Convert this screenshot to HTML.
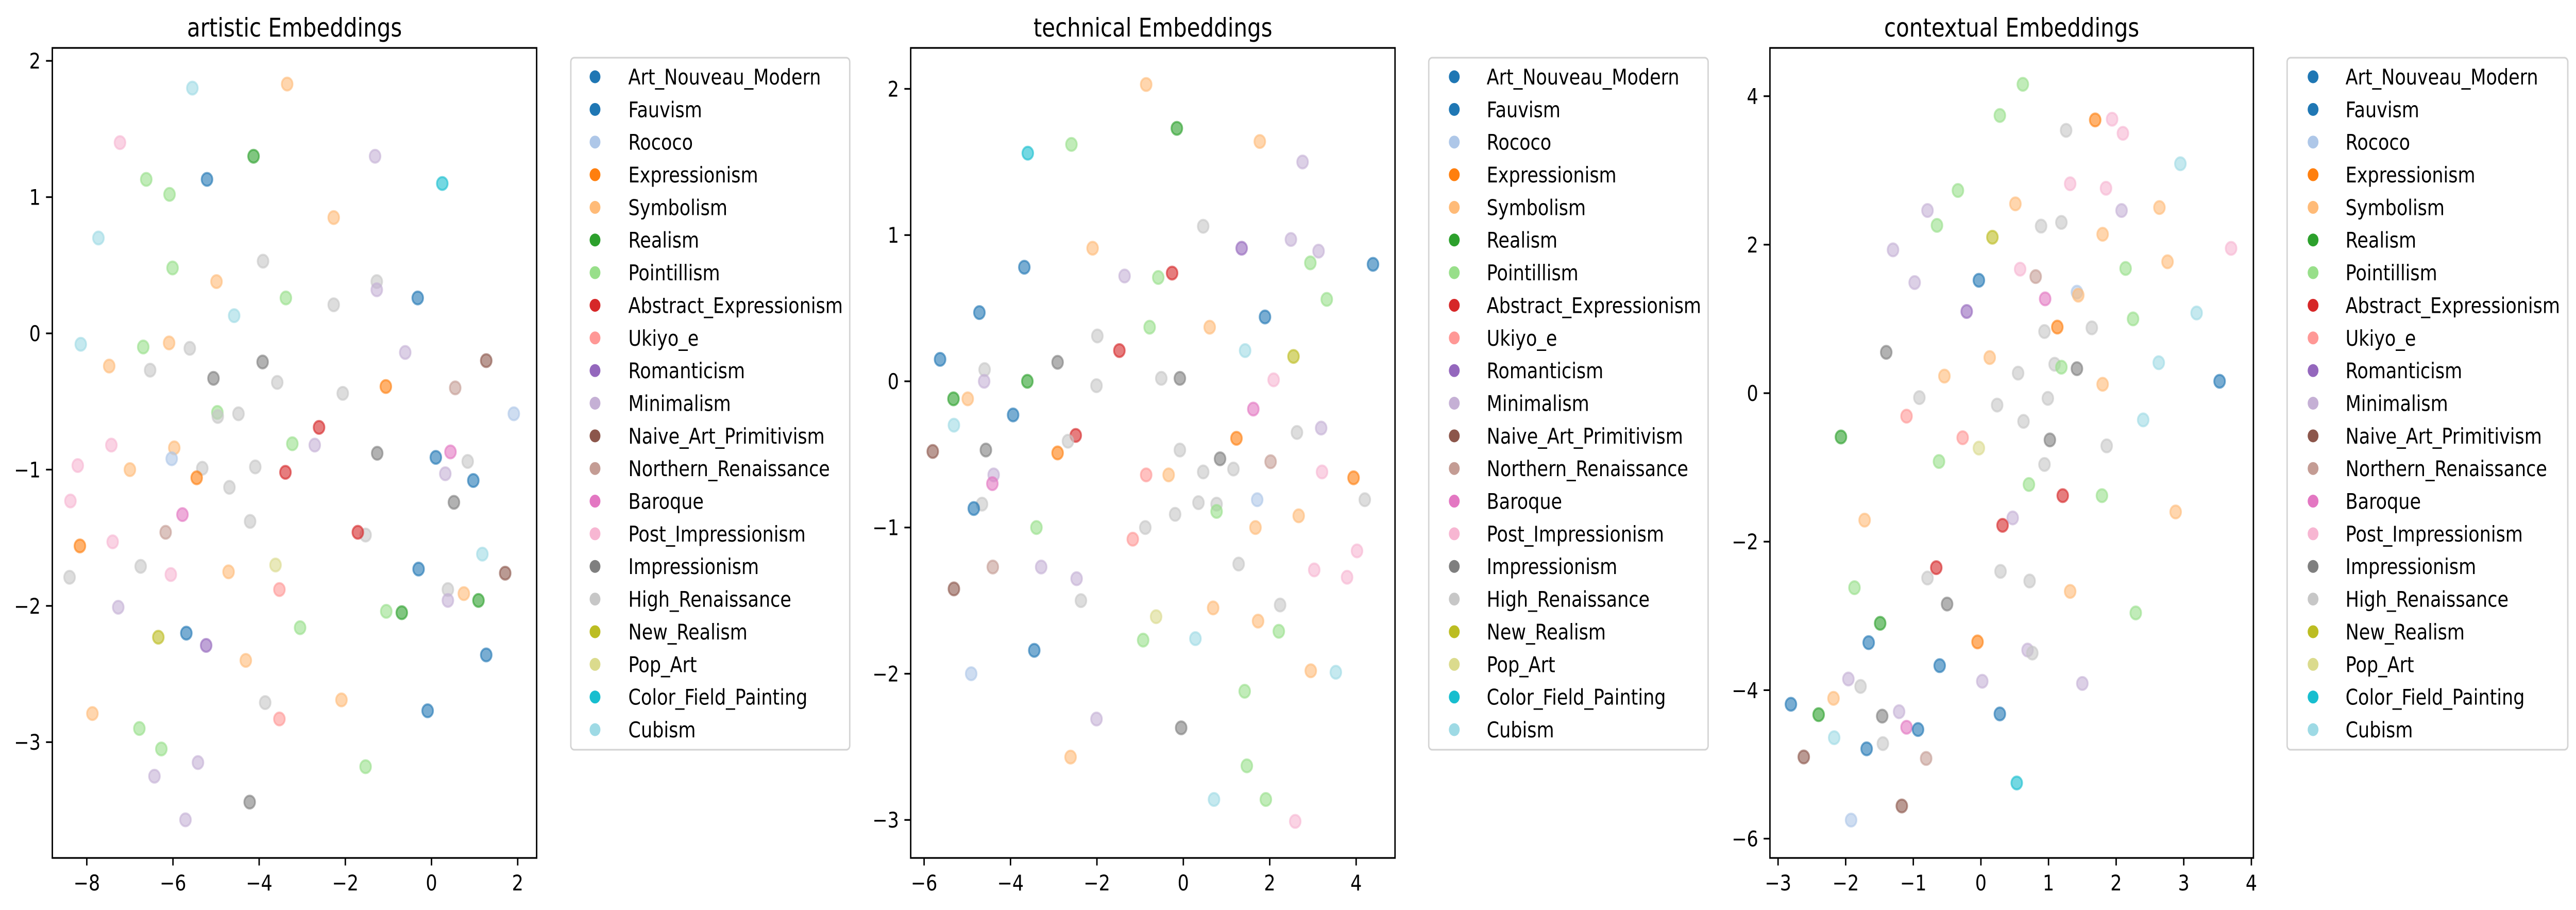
<!DOCTYPE html>
<html><head><meta charset="utf-8"><style>
html,body{margin:0;padding:0;background:#fff;width:100%;height:100%;overflow:hidden;}
svg{display:block;position:absolute;left:0;top:0;width:100vw;height:100vh;font-family:"DejaVu Sans","Liberation Sans",sans-serif;}
</style></head><body>
<svg id="fig" viewBox="0 0 5957 1766" preserveAspectRatio="none" xmlns="http://www.w3.org/2000/svg"></svg>
<script>
const categories=["Art_Nouveau_Modern","Fauvism","Rococo","Expressionism","Symbolism","Realism","Pointillism","Abstract_Expressionism","Ukiyo_e","Romanticism","Minimalism","Naive_Art_Primitivism","Northern_Renaissance","Baroque","Post_Impressionism","Impressionism","High_Renaissance","New_Realism","Pop_Art","Color_Field_Painting","Cubism"];
const catColors=["#1f77b4","#1f77b4","#aec7e8","#ff7f0e","#ffbb78","#2ca02c","#98df8a","#d62728","#ff9896","#9467bd","#c5b0d5","#8c564b","#c49c94","#e377c2","#f7b6d2","#7f7f7f","#c7c7c7","#bcbd22","#dbdb8d","#17becf","#9edae5"];

const p1Cat=[20,4,14,5,10,6,0,19,6,4,20,16,6,4,16,10,6,0,16,20,20,6,4,16,4,16,15,15,10,11,16,12,3,16,6,16,16,2,7,6,10,14,4,15,13,16,0,14,2,4,16,16,7,3,10,0,16,15,14,13,12,16,7,16,14,3,20,16,18,14,4,0,11,16,8,16,4,10,5,10,6,5,6,0,17,9,0,4,4,16,4,8,0,6,6,10,10,6,15,10];
const p1X=[-5.55,-3.35,-7.23,-4.13,-1.31,-6.62,-5.21,0.25,-6.08,-2.27,-7.73,-3.91,-6.01,-4.99,-1.27,-1.27,-3.38,-0.32,-2.27,-4.58,-8.14,-6.69,-6.09,-5.61,-7.48,-6.53,-3.92,-5.06,-0.61,1.27,-3.58,0.55,-1.06,-2.06,-4.97,-4.96,-4.48,1.91,-2.61,-3.23,-2.71,-7.43,-5.97,-1.26,0.44,0.84,0.10,-8.21,-6.03,-7.0,-5.32,-4.09,-3.39,-5.45,0.32,0.97,-4.69,0.52,-8.38,-5.78,-6.17,-1.53,-1.71,-4.21,-7.40,-8.16,1.18,-6.75,-3.62,-6.05,-4.71,-0.30,1.71,-8.40,-3.53,0.38,0.75,0.38,1.09,-7.27,-1.05,-0.69,-3.05,-5.69,-6.34,-5.23,1.27,-4.31,-2.09,-3.86,-7.87,-3.53,-0.09,-6.78,-6.27,-5.42,-6.43,-1.53,-4.22,-5.71];
const p1Y=[1.80,1.83,1.40,1.30,1.30,1.13,1.13,1.10,1.02,0.85,0.70,0.53,0.48,0.38,0.38,0.32,0.26,0.26,0.21,0.13,-0.08,-0.10,-0.07,-0.11,-0.24,-0.27,-0.21,-0.33,-0.14,-0.20,-0.36,-0.40,-0.39,-0.44,-0.58,-0.61,-0.59,-0.59,-0.69,-0.81,-0.82,-0.82,-0.84,-0.88,-0.87,-0.94,-0.91,-0.97,-0.92,-1.0,-0.99,-0.98,-1.02,-1.06,-1.03,-1.08,-1.13,-1.24,-1.23,-1.33,-1.46,-1.48,-1.46,-1.38,-1.53,-1.56,-1.62,-1.71,-1.70,-1.77,-1.75,-1.73,-1.76,-1.79,-1.88,-1.88,-1.91,-1.96,-1.96,-2.01,-2.04,-2.05,-2.16,-2.20,-2.23,-2.29,-2.36,-2.40,-2.69,-2.71,-2.79,-2.83,-2.77,-2.90,-3.05,-3.15,-3.25,-3.18,-3.44,-3.57];

const p2Cat=[4,5,6,19,4,10,16,10,9,10,4,0,0,6,10,6,7,6,0,0,4,6,16,7,20,17,0,15,16,16,15,14,10,5,16,5,4,13,0,20,10,16,7,3,16,11,15,16,3,15,12,16,16,14,10,8,4,3,13,2,16,16,16,16,0,6,16,4,6,16,4,14,8,16,12,10,14,14,10,11,16,16,4,18,4,6,20,6,0,2,4,20,6,10,15,4,6,20,6,14];
const p2X=[-0.86,-0.15,-2.59,-3.60,1.77,2.76,0.46,2.49,1.35,3.13,-2.10,4.39,-3.68,2.94,-1.36,-0.58,-0.26,3.32,-4.72,1.89,0.61,-0.78,-1.99,-1.48,1.43,2.55,-5.63,-2.91,-4.60,-0.51,-0.08,2.09,-4.61,-3.61,-2.01,-5.32,-4.99,1.62,-3.94,-5.31,3.19,2.63,-2.49,1.23,-2.67,-5.80,-4.57,-0.08,-2.91,0.85,2.02,1.16,0.46,3.21,-4.39,-0.86,-0.34,3.94,-4.42,1.71,4.20,0.35,0.77,-4.66,-4.85,0.77,-0.19,2.67,-3.40,-0.88,1.67,4.02,-1.17,1.28,-4.41,-3.29,3.03,3.79,-2.47,-5.31,-2.37,2.24,0.69,-0.63,1.73,2.21,0.28,-0.93,-3.45,-4.91,2.95,3.53,1.42,-2.01,-0.05,-2.61,1.47,0.71,1.91,2.59];
const p2Y=[2.03,1.73,1.62,1.56,1.64,1.50,1.06,0.97,0.91,0.89,0.91,0.80,0.78,0.81,0.72,0.71,0.74,0.56,0.47,0.44,0.37,0.37,0.31,0.21,0.21,0.17,0.15,0.13,0.08,0.02,0.02,0.01,0.00,0.00,-0.03,-0.12,-0.12,-0.19,-0.23,-0.30,-0.32,-0.35,-0.37,-0.39,-0.41,-0.48,-0.47,-0.47,-0.49,-0.53,-0.55,-0.60,-0.62,-0.62,-0.64,-0.64,-0.64,-0.66,-0.70,-0.81,-0.81,-0.83,-0.84,-0.84,-0.87,-0.89,-0.91,-0.92,-1.00,-1.00,-1.00,-1.16,-1.08,-1.25,-1.27,-1.27,-1.29,-1.34,-1.35,-1.42,-1.50,-1.53,-1.55,-1.61,-1.64,-1.71,-1.76,-1.77,-1.84,-2.00,-1.98,-1.99,-2.12,-2.31,-2.37,-2.57,-2.63,-2.86,-2.86,-3.01];

const p3Cat=[6,6,3,14,16,14,20,6,14,14,4,4,10,10,16,16,6,4,17,10,14,4,6,14,12,0,10,2,4,13,9,20,6,3,16,16,15,4,20,16,6,15,16,4,0,4,16,16,16,8,16,20,5,8,15,16,18,6,16,6,7,6,4,10,4,7,7,16,16,16,6,4,15,6,5,3,0,10,16,0,10,10,10,16,4,0,5,0,15,10,13,0,20,16,0,11,12,19,11,2];
const p3X=[0.62,0.28,1.69,1.94,1.26,2.10,2.95,-0.34,1.32,1.85,0.51,2.64,-0.79,2.08,1.19,0.89,-0.65,1.80,0.17,-1.30,3.70,2.76,2.14,0.58,0.81,-0.03,-0.98,1.42,1.44,0.95,-0.21,3.19,2.25,1.13,1.64,0.94,-1.40,0.13,2.63,1.09,1.19,1.42,0.55,-0.54,3.53,1.80,-0.91,0.99,0.24,-1.10,0.63,2.40,-2.07,-0.27,1.02,1.86,-0.03,-0.62,0.94,0.71,1.21,1.79,2.88,0.47,-1.72,0.32,-0.66,0.29,-0.79,0.72,-1.87,1.32,-0.50,2.29,-1.49,-0.05,-1.66,0.69,0.76,-0.61,-1.96,0.02,1.50,-1.78,-2.18,-2.81,-2.40,0.28,-1.46,-1.21,-1.10,-0.93,-2.17,-1.45,-1.69,-2.62,-0.81,0.53,-1.17,-1.92];
const p3Y=[4.16,3.74,3.68,3.69,3.54,3.50,3.09,2.73,2.82,2.76,2.55,2.50,2.46,2.46,2.30,2.25,2.26,2.14,2.10,1.93,1.95,1.77,1.68,1.67,1.57,1.52,1.49,1.36,1.32,1.27,1.10,1.08,1.00,0.89,0.88,0.83,0.55,0.48,0.41,0.39,0.35,0.33,0.27,0.23,0.16,0.12,-0.06,-0.07,-0.16,-0.31,-0.38,-0.36,-0.59,-0.60,-0.63,-0.71,-0.74,-0.92,-0.96,-1.23,-1.38,-1.38,-1.60,-1.68,-1.71,-1.78,-2.35,-2.40,-2.49,-2.53,-2.62,-2.67,-2.84,-2.96,-3.10,-3.35,-3.36,-3.46,-3.50,-3.67,-3.85,-3.88,-3.91,-3.95,-4.11,-4.19,-4.33,-4.32,-4.35,-4.29,-4.50,-4.53,-4.64,-4.72,-4.79,-4.90,-4.92,-5.25,-5.56,-5.75];

const titles=["artistic Embeddings","technical Embeddings","contextual Embeddings"];
const p1XTicks=[-8,-6,-4,-2,0,2], p1YTicks=[-3,-2,-1,0,1,2];
const p2XTicks=[-6,-4,-2,0,2,4], p2YTicks=[-3,-2,-1,0,1,2];
const p3XTicks=[-3,-2,-1,0,1,2,3,4], p3YTicks=[-6,-4,-2,0,2,4];

const NS="http://www.w3.org/2000/svg";
const svg=document.getElementById('fig');
function mk(tag,attrs,parent){const e=document.createElementNS(NS,tag);for(const k in attrs)e.setAttribute(k,attrs[k]);(parent||svg).appendChild(e);return e;}
function fmt(v){return v<0?"\u2212"+Math.abs(v):String(v);}

const panels=[
 {L:121,R:1241,T:93,B:1665,xd:[-8.80,2.44],yd:[-3.85,2.095],cat:p1Cat,X:p1X,Y:p1Y,xt:p1XTicks,yt:p1YTicks,lg:[1320,1965],lm:1376,lt:1453},
 {L:2106,R:3226,T:93,B:1665,xd:[-6.31,4.90],yd:[-3.26,2.28],cat:p2Cat,X:p2X,Y:p2Y,xt:p2XTicks,yt:p2YTicks,lg:[3304,3950],lm:3363,lt:3438},
 {L:4093,R:5211,T:93,B:1665,xd:[-3.12,4.03],yd:[-6.26,4.65],cat:p3Cat,X:p3X,Y:p3Y,xt:p3XTicks,yt:p3YTicks,lg:[5289,5938],lm:5349,lt:5424}
];

panels.forEach((p,pi)=>{
  const g=mk('g',{});
  
  
  const sx=v=>p.L+(v-p.xd[0])/(p.xd[1]-p.xd[0])*(p.R-p.L);
  const sy=v=>p.B-(v-p.yd[0])/(p.yd[1]-p.yd[0])*(p.B-p.T);
  const t=mk('text',{x:(p.L+p.R)/2,y:71,'font-size':50,'text-anchor':'middle',fill:'#000'},g);
  t.textContent=titles[pi];
  
  
  const pts=mk('g',{},g);
  
  
  for(let i=0;i<p.X.length;i++){
    const c=catColors[p.cat[i]];
    const ci=mk('circle',{cx:sx(p.X[i]),cy:sy(p.Y[i]),r:12.5,fill:c,'fill-opacity':0.6,stroke:c,'stroke-opacity':0.6,'stroke-width':4},pts);
    
    
  }
  const fr=mk('rect',{x:p.L,y:p.T,width:p.R-p.L,height:p.B-p.T,fill:'none',stroke:'#000','stroke-width':3.3},g);
  
  
  p.xt.forEach(v=>{
    const x=sx(v);
    mk('line',{x1:x,x2:x,y1:p.B,y2:p.B+14.6,stroke:'#000','stroke-width':3.3},g);
    const tl=mk('text',{x:x,y:1728,'font-size':41.7,'text-anchor':'middle',fill:'#000'},g);
    tl.textContent=fmt(v);
    
    
  });
  p.yt.forEach(v=>{
    const y=sy(v);
    mk('line',{x1:p.L-14.6,x2:p.L,y1:y,y2:y,stroke:'#000','stroke-width':3.3},g);
    const tl=mk('text',{x:p.L-27,y:y+15,'font-size':41.7,'text-anchor':'end',fill:'#000'},g);
    tl.textContent=fmt(v);
    
    
  });
  const lg=mk('g',{},g);
  
  
  mk('rect',{x:p.lg[0],y:112,width:p.lg[1]-p.lg[0],height:1343,rx:8,fill:'#fff','fill-opacity':0.8,stroke:'#d4d4d4','stroke-width':3.3},lg);
  categories.forEach((name,k)=>{
    const y=149+k*63.35;
    const e=mk('g',{},lg);
    
    
    mk('circle',{cx:p.lm,cy:y,r:12.5,fill:catColors[k]},e);
    const tx=mk('text',{x:p.lt,y:y+15,'font-size':41.7,fill:'#000'},e);
    tx.textContent=name;
  });
});
</script>
</body></html>
